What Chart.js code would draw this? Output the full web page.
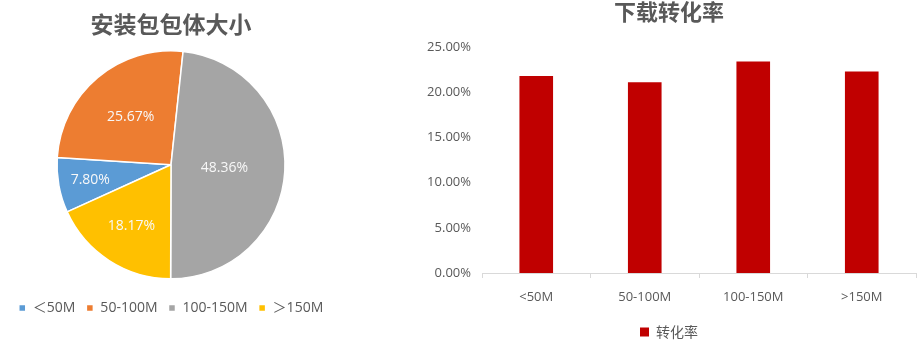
<!DOCTYPE html>
<html>
<head>
<meta charset="utf-8">
<script src="https://cdn.jsdelivr.net/npm/chart.js@4.4.0/dist/chart.umd.min.js"></script>
<style>
  html, body { margin: 0; padding: 0; background: #fff; }
  body { width: 917px; height: 345px; position: relative; overflow: hidden; }
  #pieBox { position: absolute; left: 0; top: 0; width: 342px; height: 345px; }
  #barBox { position: absolute; left: 410px; top: 0; width: 507px; height: 345px; }
</style>
</head>
<body>
<div id="pieBox"><canvas id="pieChart"></canvas></div>
<div id="barBox"><canvas id="barChart"></canvas></div>
<script>
// package size buckets
const sizeLabels = ['＜50M', '50-100M', '100-150M', '＞150M'];
const sizeShare = [7.80, 25.67, 48.36, 18.17]; // percent of packages
const sliceColors = ['#5B9BD5', '#ED7D31', '#A5A5A5', '#FFC000'];

// download conversion
const rateLabels = ['<50M', '50-100M', '100-150M', '>150M'];
const rateValues = [0.218, 0.211, 0.234, 0.223];
const rateTicks = [0, 0.05, 0.10, 0.15, 0.20, 0.25];

const CJK = '"Noto Sans CJK SC", sans-serif';
const FONT = '"Open Sans", "Noto Sans CJK SC", sans-serif';
const TEXT = '#595959';

// how far out along the radius each pie label sits
const labelRadius = [0.72, 0.55, 0.47, 0.64];

const pieLabels = {
  id: 'pieLabels',
  afterDatasetsDraw(chart) {
    const ctx = chart.ctx;
    const meta = chart.getDatasetMeta(0);
    ctx.save();
    ctx.font = '14px ' + FONT;
    ctx.fillStyle = '#f8f8f8';
    ctx.textAlign = 'center';
    ctx.textBaseline = 'middle';
    meta.data.forEach((arc, i) => {
      const p = arc.getProps(['x', 'y', 'startAngle', 'endAngle', 'outerRadius'], true);
      const mid = (p.startAngle + p.endAngle) / 2;
      const r = p.outerRadius * labelRadius[i];
      ctx.fillText(sizeShare[i].toFixed(2) + '%', p.x + Math.cos(mid) * r, p.y + Math.sin(mid) * r);
    });
    ctx.restore();
  }
};

function drawPie() {
  const ctx = document.getElementById('pieChart').getContext('2d');
  new Chart(ctx, {
    type: 'pie',
    data: {
      labels: sizeLabels,
      datasets: [{
        data: sizeShare,
        backgroundColor: sliceColors,
        borderColor: '#ffffff',
        borderWidth: 1.5,
        radius: 114
      }]
    },
    options: {
      responsive: true,
      maintainAspectRatio: false,
      animation: false,
      rotation: -114.4, // grey slice starts just right of 12 o'clock
      layout: { padding: { bottom: 20 } },
      plugins: {
        title: {
          display: true,
          text: '安装包包体大小',
          color: TEXT,
          font: { family: CJK, size: 23, weight: 'bold' },
          padding: { top: 10, bottom: 2 }
        },
        legend: {
          position: 'bottom',
          labels: {
            color: TEXT,
            font: { family: FONT, size: 14 },
            boxWidth: 7,
            boxHeight: 7,
            padding: 11
          }
        },
        tooltip: { enabled: false }
      }
    },
    plugins: [pieLabels]
  });
}

function drawBar() {
  const ctx = document.getElementById('barChart').getContext('2d');
  new Chart(ctx, {
    type: 'bar',
    data: {
      labels: rateLabels,
      datasets: [{
        label: '转化率',
        data: rateValues,
        backgroundColor: '#C00000',
        barPercentage: 0.31,
        categoryPercentage: 1
      }]
    },
    options: {
      responsive: true,
      maintainAspectRatio: false,
      animation: false,
      layout: { padding: { left: 12, right: 1, bottom: -4 } },
      scales: {
        x: {
          grid: { display: true, drawOnChartArea: false, drawTicks: true, tickLength: 5, color: '#d9d9d9' },
          border: { display: true, color: '#d9d9d9' },
          ticks: { color: TEXT, font: { family: FONT, size: 13 }, padding: 11 },
          afterFit: (scale) => { scale.height = 42; }
        },
        y: {
          min: 0,
          max: 0.25,
          afterBuildTicks: (scale) => { scale.ticks = rateTicks.map(v => ({ value: v })); },
          grid: { display: false, drawTicks: false },
          border: { display: false },
          ticks: {
            color: TEXT,
            font: { family: FONT, size: 13 },
            padding: 11,
            callback: (v) => (v * 100).toFixed(2) + '%'
          },
          afterFit: (scale) => { scale.width = 60; }
        }
      },
      plugins: {
        title: {
          display: true,
          text: '下载转化率',
          color: TEXT,
          font: { family: CJK, size: 22, weight: 'bold' },
          padding: { top: -2, bottom: 22.6 }
        },
        legend: {
          position: 'bottom',
          labels: {
            color: TEXT,
            font: { family: CJK, size: 14 },
            boxWidth: 9,
            boxHeight: 9,
            padding: 10
          }
        },
        tooltip: { enabled: false }
      }
    }
  });
}

window.addEventListener('DOMContentLoaded', () => {
  drawPie();
  drawBar();
});
</script>
</body>
</html>
